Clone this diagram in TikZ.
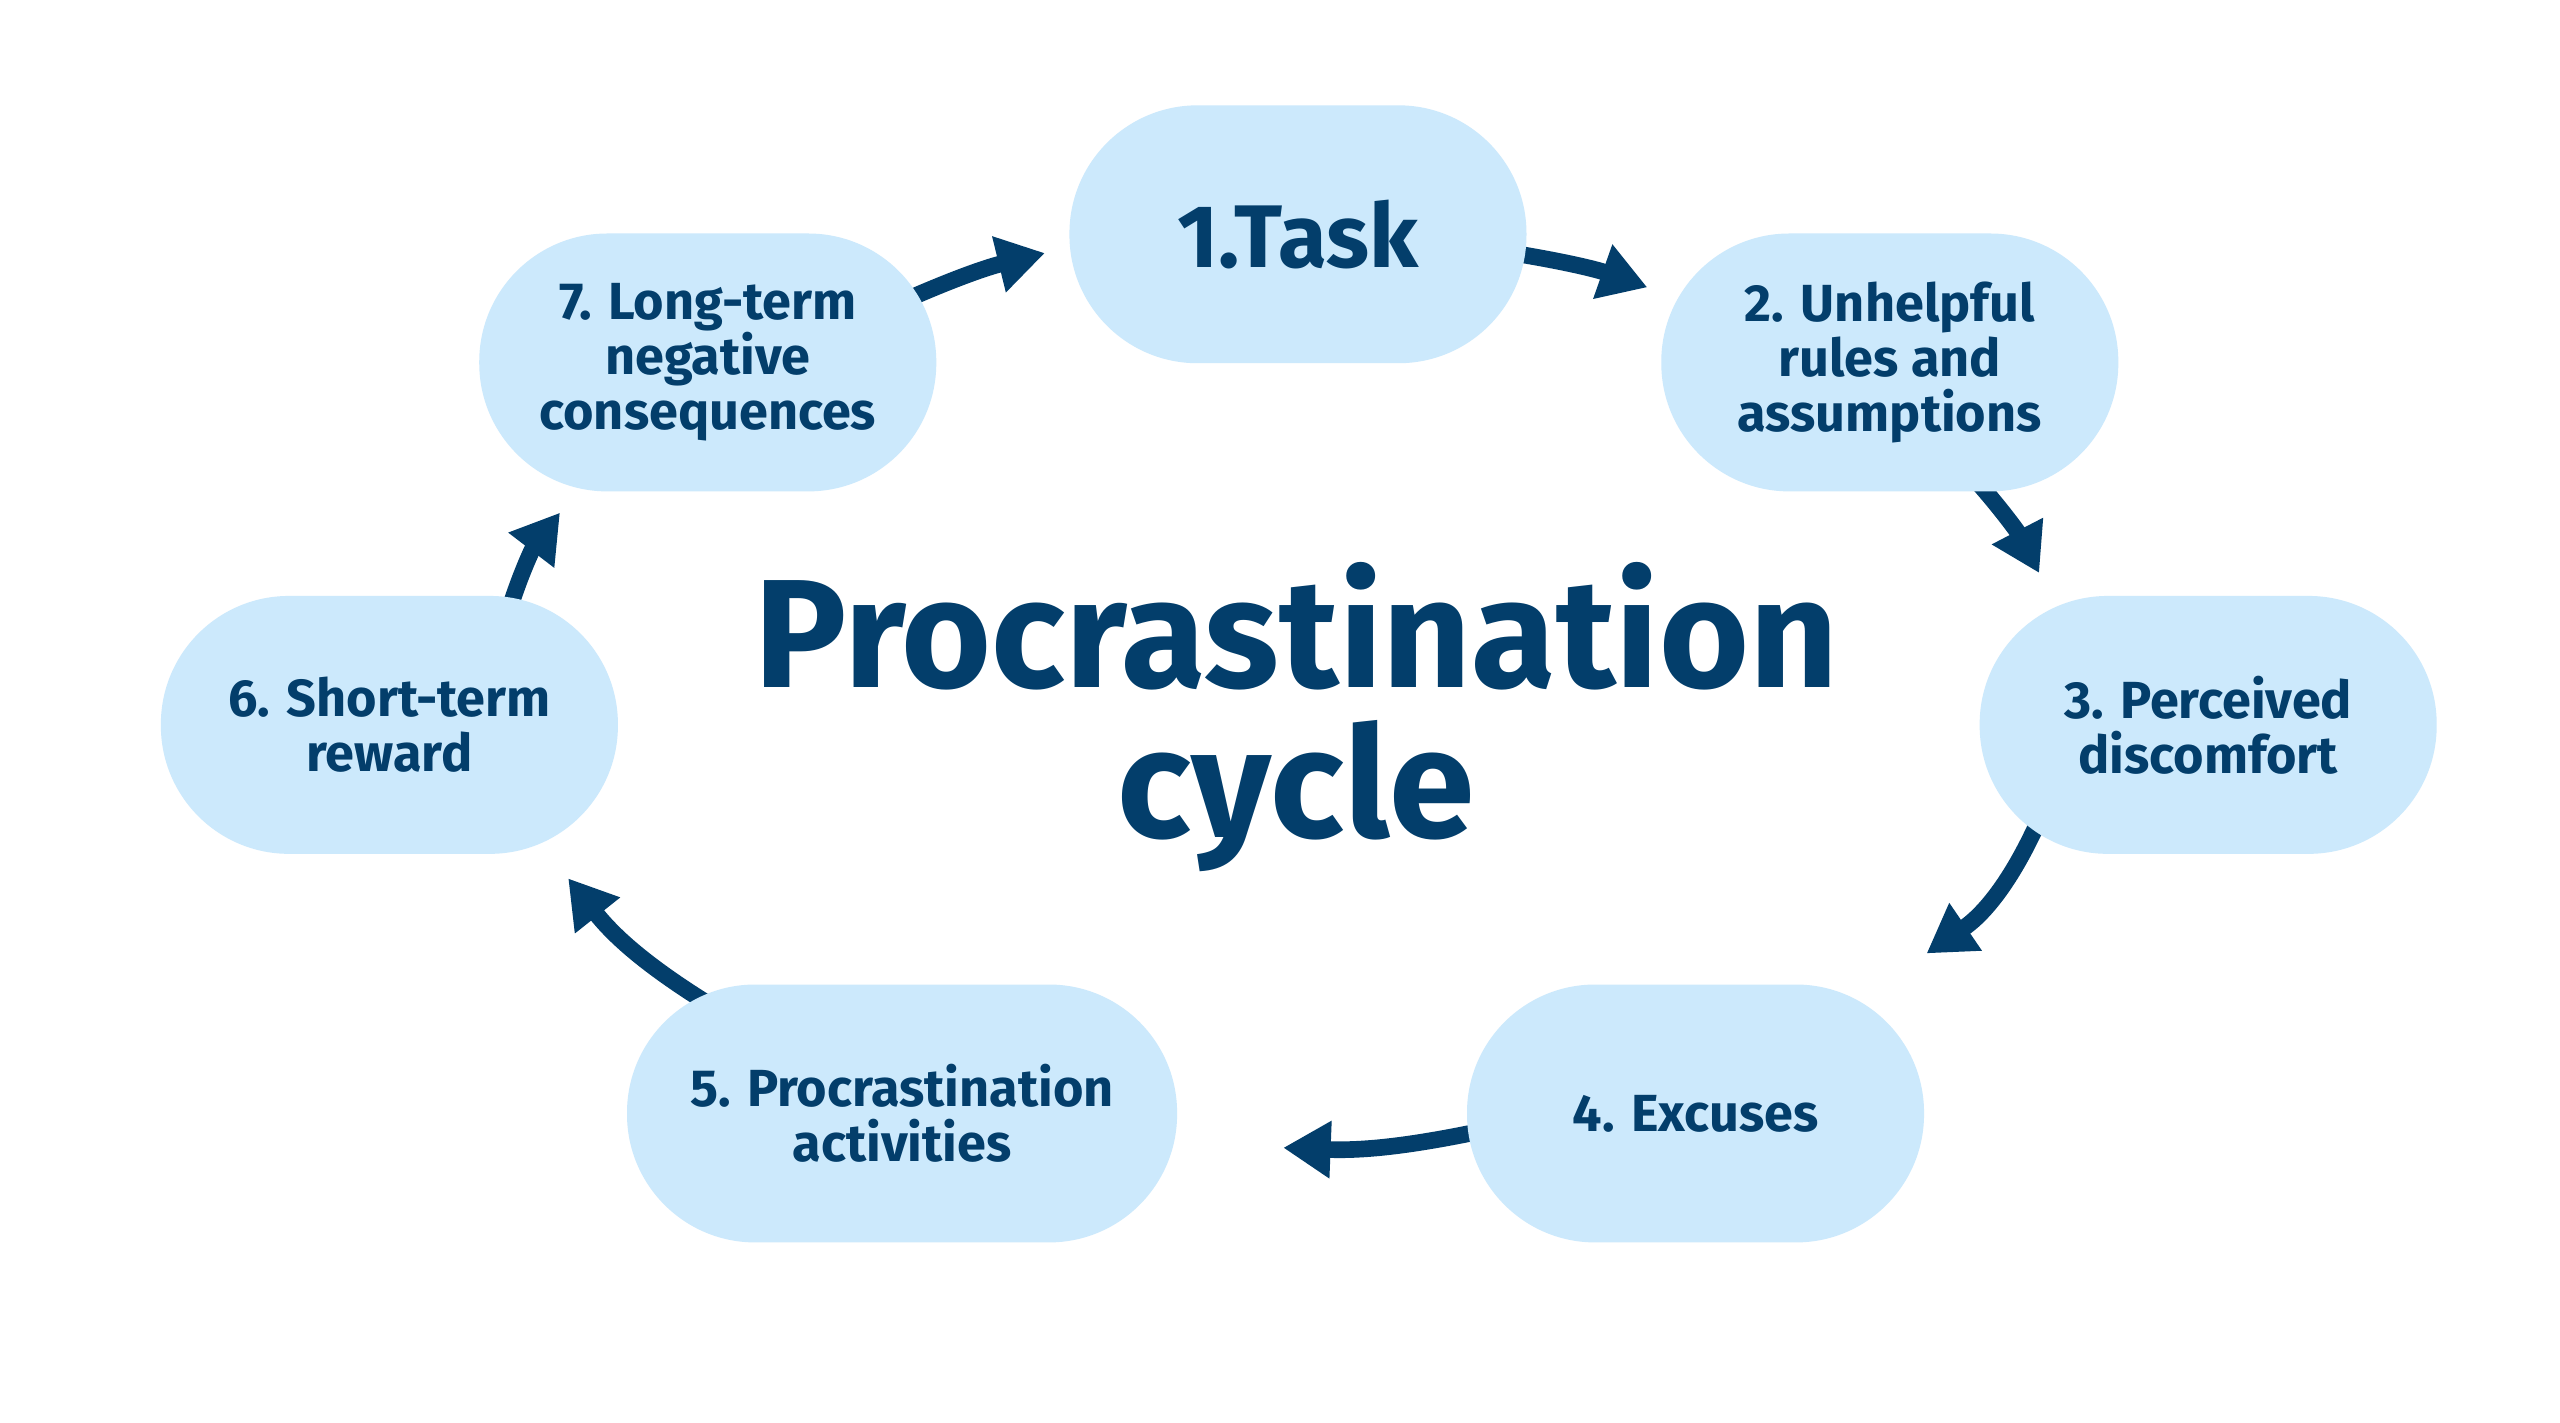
\documentclass[tikz,border=0pt]{standalone}
\usepackage{fontspec}
\setmainfont{Fira Sans}
\usetikzlibrary{arrows.meta,backgrounds}
\definecolor{boxfill}{HTML}{CCE9FC}
\definecolor{ink}{HTML}{033E6B}
\begin{document}
\begin{tikzpicture}[x=0.02cm,y=-0.02cm,
  stage/.style={shape=rectangle, rounded corners=1.57cm, fill=boxfill,
    minimum width=5.6cm, minimum height=3.16cm, inner sep=0pt,
    align=center, text=ink, font=\fontsize{18.2}{19.2}\selectfont\bfseries},
  flow/.style={draw=ink, line width=5.8pt, -{Triangle[length=16.5pt,width=19pt]}},
  headline/.style={text=ink, inner sep=0pt, anchor=base, font=\fontsize{53.8}{53}\selectfont\bfseries}
]
\useasboundingbox (0,0) rectangle (1568,871);

\node[stage, font=\fontsize{31}{32}\selectfont\bfseries] (t1) at (795,143.5) {1.Task};
\node[stage] (t2) at (1157.5,222) {2. Unhelpful\\rules and\\assumptions};
\node[stage] (t3) at (1352.5,444) {3. Perceived\\discomfort};
\node[stage] (t4) at (1038.5,682) {4. Excuses};
\node[stage, minimum width=6.74cm] (t5) at (552.5,682) {5. Procrastination\\activities};
\node[stage] (t6) at (238.5,444) {6. Short-term\\reward};
\node[stage] (t7) at (433.5,222) {7. Long-term\\negative\\consequences};

\node[headline] (title1) at (794,421) {Procrastination};
\node[headline] (title2) at (794,513) {cycle};

\coordinate (h12) at (1009,176);
\coordinate (h23) at (1249,351);
\coordinate (h34) at (1180,584);
\coordinate (h45) at (786,703);
\coordinate (h56) at (348,538);
\coordinate (h67) at (343,314);
\coordinate (h71) at (640,155);

\begin{scope}[on background layer]
\fill[white] (0,0) rectangle (1568,871);
\draw[flow] ([shift={(-6,12)}]t1.east) to[bend left=5] (h12);
\draw[flow] ([shift={(52,-8)}]t2.south) to[bend left=7] (h23);
\draw[flow] ([shift={(38,-24)}]t3.south west) to[bend left=16] (h34);
\draw[flow] ([shift={(8,11)}]t4.west) to[bend left=7] (h45);
\draw[flow] ([shift={(53,14)}]t5.north west) to[bend left=10] (h56);
\draw[flow] ([shift={(73,10)}]t6.north) to[bend left=10] (h67);
\draw[flow] ([shift={(-22,-37)}]t7.east) to[bend left=5] (h71);
\end{scope}
\end{tikzpicture}
\end{document}
